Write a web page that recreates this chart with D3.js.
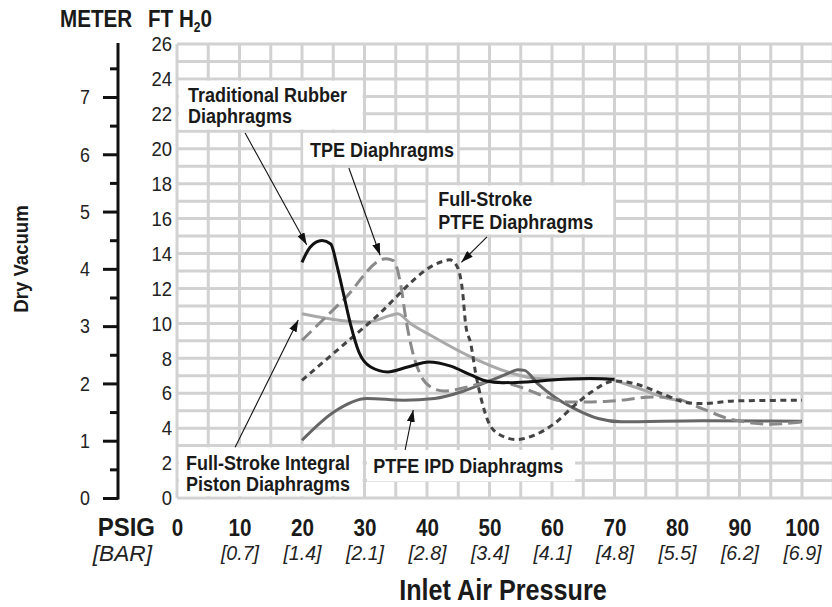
<!DOCTYPE html>
<html>
<head>
<meta charset="utf-8">
<script src="https://cdn.jsdelivr.net/npm/d3@7"></script>
<style>
  html, body { margin: 0; padding: 0; background: #fff; }
  svg { display: block; }
  text { font-family: "Liberation Sans", Arial, Helvetica, sans-serif; }
</style>
</head>
<body>
<svg id="chart" width="832" height="607"></svg>
<script>
// ---- Data: dry vacuum (ft H2O) versus inlet air pressure (psig) ----
const psigTicks = [0, 10, 20, 30, 40, 50, 60, 70, 80, 90, 100];
const barLabels = ["", "[0.7]", "[1.4]", "[2.1]", "[2.8]", "[3.4]", "[4.1]", "[4.8]", "[5.5]", "[6.2]", "[6.9]"];
const ftTicks = [0, 2, 4, 6, 8, 10, 12, 14, 16, 18, 20, 22, 24, 26];
const meterTicks = [0, 1, 2, 3, 4, 5, 6, 7];
const meterMinorTicks = [0.5, 1.5, 2.5, 3.5, 4.5, 5.5, 6.5, 7.5];

const rubber = [[20,13.5],[21.3,14.36],[23.2,14.74],[24.6,14.55],[25.6,13.3],[26.7,11.6],[27.8,9.9],[29.1,8.36],
  [31,7.5],[33.7,7.22],[36.9,7.5],[40.3,7.79],[43.8,7.55],[47,7.05],[49.5,6.7],[52,6.6],[56,6.65],[61,6.78],[66,6.84],[70,6.8]];
const tpe = [[20,9.03],[26.7,11.37],[33.4,13.7],[34.6,13.6],[35.8,12.2],[36.6,10.3],[37.7,8.36],[39,7.03],[40.6,6.36],
  [42.7,6.13],[46.5,6.36],[50,6.66],[52,6.62],[55.6,6.27],[58.3,5.89],[62.5,5.5],[66.3,5.5],[71,5.6],[76,5.79],[79,5.76],
  [84,5.12],[88.2,4.55],[92,4.3],[95,4.23],[100,4.36]];
const ptfe = [[20,6.74],[31,10.1],[42.5,13.55],[43.6,13.64],[44.9,13.2],[45.7,11.8],[46.2,9.9],[47,8.84],[47.8,7.12],
  [48.6,5.79],[49.7,4.46],[51.3,3.7],[54.3,3.35],[57.2,3.6],[60.4,4.27],[63.6,5.3],[66.3,6.07],[70,6.7],[73.2,6.55],
  [77.5,5.98],[81.8,5.45],[84,5.41],[89.3,5.56],[100,5.6]];
const piston = [[20,10.55],[26.2,10.17],[30.4,10.08],[34.2,10.46],[35.3,10.55],[37.4,9.98],[40.6,9.31],[46.5,8.17],
  [52.9,7.22],[57.2,6.86],[62,6.8],[68,6.84],[73.2,6.36],[78.6,5.7],[80,5.6]];
const ipd = [[20,3.31],[25.1,4.93],[30.4,5.7],[36.3,5.6],[41.2,5.7],[45.4,6.07],[47.6,6.36],[50.2,6.74],[52.9,7.12],
  [54.5,7.35],[55.6,7.31],[57.7,6.55],[60.4,5.79],[63.6,5.12],[67.4,4.55],[71.1,4.36],[84,4.42],[100,4.4]];

const FT_PER_METER = 3.28084;

// ---- Scales ----
const x = d3.scaleLinear().domain([0, 100]).range([177, 802]);
const y = d3.scaleLinear().domain([0, 26]).range([498, 44]);
const yMeter = d3.scaleLinear().domain([0, 26 / FT_PER_METER]).range([498, 44]);

// Narrow a text run horizontally (condensed type) while keeping its anchor point.
function condense(sel, s) {
  sel.each(function () {
    const el = d3.select(this);
    const ex = el.attr("x");
    if (ex !== null) el.attr("x", +ex / s);
    el.selectAll("tspan").each(function () {
      const t = d3.select(this);
      const tx = t.attr("x");
      if (tx !== null) t.attr("x", +tx / s);
    });
    el.attr("transform", `scale(${s},1)`);
  });
}

const svg = d3.select("#chart");
svg.append("rect").attr("width", 832).attr("height", 607).attr("fill", "#fff");

// ---- Grid: every 5 psig and every 1 ft ----
const grid = svg.append("g").attr("stroke", "#d2d2d2").attr("stroke-width", 3);
grid.selectAll("line.v").data(d3.range(0, 106, 5)).join("line")
  .attr("x1", d => x(d)).attr("x2", d => x(d)).attr("y1", y(26)).attr("y2", y(0));
grid.selectAll("line.h").data(d3.range(0, 27, 1)).join("line")
  .attr("x1", x(0)).attr("x2", x(105)).attr("y1", d => y(d)).attr("y2", d => y(d));

// ---- Label boxes (white panels over the grid) ----
const notes = [
  { lines: ["Traditional Rubber", "Diaphragms"], box: [0.3, 29.7, 21.1, 23.9], tx: 1.76, ty: [22.7, 21.45],
    arrow: [[10.9, 20.9], [20.75, 14.5]] },
  { lines: ["TPE Diaphragms"], box: [20.2, 44.8, 19.1, 20.9], tx: 21.3, ty: [19.55],
    arrow: [[27.5, 18.9], [32.5, 13.9]] },
  { lines: ["Full-Stroke", "PTFE Diaphragms"], box: [40.2, 69.8, 15.1, 17.9], tx: 41.8, ty: [16.72, 15.39],
    arrow: [[49.6, 14.95], [45.5, 13.5]] },
  { lines: ["Full-Stroke Integral", "Piston Diaphragms"], box: [0.3, 29.7, 0.1, 2.9], tx: 1.44, ty: [1.6, 0.42],
    arrow: [[9.3, 2.9], [19.4, 10.2]] },
  { lines: ["PTFE IPD Diaphragms"], box: [30.4, 63.7, 0.95, 2.75], tx: 31.4, ty: [1.41],
    arrow: [[36.5, 2.75], [37.8, 5.04]] }
];

svg.append("g").selectAll("rect").data(notes).join("rect")
  .attr("x", d => x(d.box[0])).attr("width", d => x(d.box[1]) - x(d.box[0]))
  .attr("y", d => y(d.box[3])).attr("height", d => y(d.box[2]) - y(d.box[3]))
  .attr("fill", "#fff");

// ---- Curves ----
const line = d3.line().x(d => x(d[0])).y(d => y(d[1])).curve(d3.curveMonotoneX);
const series = [
  { data: piston, color: "#a9a9a9", dash: null },
  { data: ipd, color: "#666666", dash: null },
  { data: tpe, color: "#8a8a8a", dash: "13 6" },
  { data: ptfe, color: "#444444", dash: "6 4.5" },
  { data: rubber, color: "#111111", dash: null }
];
svg.append("g").selectAll("path").data(series).join("path")
  .attr("d", d => line(d.data))
  .attr("fill", "none")
  .attr("stroke", d => d.color)
  .attr("stroke-width", 3)
  .attr("stroke-dasharray", d => d.dash)
  .attr("stroke-linejoin", "round");

// ---- Callout arrows ----
svg.append("defs").append("marker")
  .attr("id", "head").attr("viewBox", "0 0 12 8").attr("refX", 12).attr("refY", 4)
  .attr("markerWidth", 12).attr("markerHeight", 8).attr("markerUnits", "userSpaceOnUse")
  .attr("orient", "auto")
  .append("path").attr("d", "M0,0 L12,4 L0,8 Z").attr("fill", "#111");

svg.append("g").selectAll("line").data(notes).join("line")
  .attr("x1", d => x(d.arrow[0][0])).attr("y1", d => y(d.arrow[0][1]))
  .attr("x2", d => x(d.arrow[1][0])).attr("y2", d => y(d.arrow[1][1]))
  .attr("stroke", "#111").attr("stroke-width", 1.1)
  .attr("marker-end", "url(#head)");

// ---- Callout text ----
const noteText = svg.append("g").selectAll("text").data(notes).join("text")
  .attr("font-size", 20).attr("font-weight", "bold").attr("fill", "#1a1a1a");
noteText.selectAll("tspan").data(d => d.lines.map((t, i) => ({ t, x: d.tx, y: d.ty[i] }))).join("tspan")
  .attr("x", d => x(d.x)).attr("y", d => y(d.y)).text(d => d.t);
condense(noteText, 0.9);

// ---- Left axis in metres ----
const mAxis = svg.append("g").attr("transform", "translate(118,0)");
mAxis.call(d3.axisLeft(yMeter).tickValues(meterTicks).tickSize(15).tickPadding(13).tickFormat(d3.format("d")))
  .call(g => g.select(".domain").remove());
mAxis.selectAll(".tick line").attr("stroke", "#111").attr("stroke-width", 3);
mAxis.selectAll(".tick text").attr("font-size", 21).attr("fill", "#222").attr("font-family", null);
condense(mAxis.selectAll(".tick text"), 0.85);
mAxis.append("g").call(d3.axisLeft(yMeter).tickValues(meterMinorTicks).tickSize(8).tickFormat(""))
  .call(g => g.select(".domain").remove())
  .selectAll(".tick line").attr("stroke", "#111").attr("stroke-width", 3);
mAxis.append("line").attr("x1", 0).attr("x2", 0).attr("y1", y(26) - 1).attr("y2", y(0) + 1.5)
  .attr("stroke", "#111").attr("stroke-width", 3);

// ---- Feet of water scale ----
const ftAxis = svg.append("g").attr("transform", "translate(172,0)");
ftAxis.call(d3.axisLeft(y).tickValues(ftTicks).tickSize(0).tickPadding(0).tickFormat(d3.format("d")))
  .call(g => g.select(".domain").remove());
ftAxis.selectAll(".tick text").attr("font-size", 21).attr("fill", "#222").attr("font-family", null);
condense(ftAxis.selectAll(".tick text"), 0.88);

// ---- Bottom axis: psig with bar equivalents ----
const xAxis = svg.append("g");
xAxis.call(d3.axisBottom(x).tickValues(psigTicks).tickSize(0).tickPadding(0).tickFormat(d3.format("d")))
  .call(g => g.select(".domain").remove());
xAxis.selectAll(".tick text").attr("y", 536).attr("dy", null)
  .attr("font-size", 24).attr("font-weight", "bold").attr("fill", "#1a1a1a").attr("font-family", null);
condense(xAxis.selectAll(".tick text"), 0.86);

const barAxis = svg.append("g");
barAxis.call(d3.axisBottom(x).tickValues(psigTicks).tickSize(0).tickPadding(0)
    .tickFormat((d, i) => barLabels[i]))
  .call(g => g.select(".domain").remove());
barAxis.selectAll(".tick text").attr("y", 560).attr("dy", null)
  .attr("font-size", 20).attr("font-style", "italic").attr("fill", "#222").attr("font-family", null);
condense(barAxis.selectAll(".tick text"), 0.98);

// ---- Axis titles ----
const meterTitle = svg.append("text").attr("x", 60).attr("y", 27).attr("font-size", 24).attr("font-weight", "bold")
  .attr("fill", "#1a1a1a").text("METER");
condense(meterTitle, 0.86);
const ftTitle = svg.append("text").attr("x", 148).attr("y", 27).attr("font-size", 24).attr("font-weight", "bold")
  .attr("fill", "#1a1a1a");
ftTitle.append("tspan").text("FT H");
ftTitle.append("tspan").attr("font-size", 14).attr("dy", 5).text("2");
ftTitle.append("tspan").attr("dy", -5).text("0");
condense(ftTitle, 0.86);

const psigTitle = svg.append("text").attr("x", 155).attr("y", 536).attr("text-anchor", "end").attr("font-size", 25)
  .attr("font-weight", "bold").attr("fill", "#1a1a1a").text("PSIG");
condense(psigTitle, 0.96);
const barTitle = svg.append("text").attr("x", 152).attr("y", 561.5).attr("text-anchor", "end").attr("font-size", 22)
  .attr("font-style", "italic").attr("fill", "#222").text("[BAR]");
condense(barTitle, 1.03);

const xTitle = svg.append("text").attr("x", 503).attr("y", 600).attr("text-anchor", "middle").attr("font-size", 30)
  .attr("font-weight", "bold").attr("fill", "#1a1a1a").text("Inlet Air Pressure");
condense(xTitle, 0.84);

svg.append("text").attr("transform", "translate(28,259) rotate(-90) scale(0.93,1)").attr("text-anchor", "middle")
  .attr("font-size", 20).attr("font-weight", "bold").attr("fill", "#1a1a1a").text("Dry Vacuum");
</script>
</body>
</html>
